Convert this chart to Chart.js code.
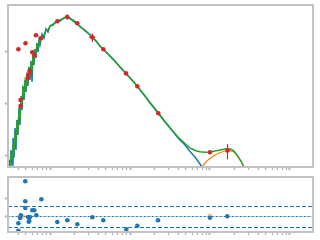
<!DOCTYPE html>
<html>
<head>
<meta charset="utf-8">
<script src="https://cdn.jsdelivr.net/npm/chart.js@4.4.1/dist/chart.umd.min.js"></script>
<style>
  html, body { margin: 0; padding: 0; background: #fff; }
  #wrap { position: relative; width: 320px; height: 240px; overflow: hidden; }
  canvas { position: absolute; left: 0; }
  #sed { top: 0; }
  #resid { top: 172px; }
</style>
</head>
<body>
<div id="wrap">
  <canvas id="sed" width="320" height="172"></canvas>
  <canvas id="resid" width="320" height="68"></canvas>
</div>
<script>
// model spectra grid (micron)
const wave = [
  0.02985, 0.03073, 0.03162, 0.03255, 0.03350, 0.03447, 0.03548, 0.03652, 0.03758, 0.03868,
  0.03981, 0.04097, 0.04217, 0.04340, 0.04467, 0.04597, 0.04732, 0.04870, 0.05012, 0.05158,
  0.05309, 0.05464, 0.05623, 0.05788, 0.05957, 0.06131, 0.06310, 0.06494, 0.06683, 0.06879,
  0.07079, 0.07286, 0.07499, 0.07943, 0.08414, 0.08913, 0.09441, 0.1,
  0.1090, 0.1189, 0.1334, 0.1496, 0.1631, 0.1778, 0.1939, 0.2175, 0.2371, 0.2738,
  0.2985, 0.3350, 0.3758, 0.4217, 0.4597, 0.5623, 0.6494, 0.7499, 0.8913, 1.059,
  1.223, 1.540, 1.778, 2.239, 2.738, 3.350, 3.981, 4.870, 5.623, 6.494,
  7.499, 8.660, 10.0, 11.55, 13.34, 15.40, 16.79, 18.31, 19.95, 22.39,
  24.40, 26.61, 29.01
];
// stellar photosphere (blue)
const stellarFlux = [
  0.410, 0.800, 0.513, 1.249, 0.641, 2.13, 0.875, 3.33, 1.249, 4.75,
  2.44, 8.11, 3.80, 13.8, 7.42, 21.6, 11.6, 28.2, 16.5, 36.9,
  21.6, 50.4, 28.2, 65.8, 25.8, 85.96, 55.1, 112.3, 75.2, 146.7,
  98.2, 167.6, 134.2, 219.0, 183.2, 273.6, 239.4, 312.7,
  326.9, 373.7, 390.7, 446.6, 467.0, 446.6, 390.7, 341.8, 312.7, 250.3,
  228.9, 191.6, 160.3, 128.3, 112.3, 82.2, 65.8, 50.4, 37.7, 28.2,
  21.6, 13.8, 10.1, 6.49, 4.35, 2.98, 2.13, 1.561, 1.169, 0.915,
  0.670, 0.469, null, null, null, null, null, null, null, null,
  null, null, null
];
// star + dust (green)
const totalFlux = [
  0.469, 0.670, 0.613, 1.0, 0.875, 1.561, 1.249, 2.33, 1.95, 3.98,
  3.33, 6.49, 5.43, 11.6, 10.1, 18.9, 15.1, 25.8, 20.7, 33.7,
  28.2, 44.1, 36.9, 57.6, 48.2, 78.6, 68.8, 102.7, 93.96, 134.2,
  122.7, 160.3, 153.4, 200.3, 209.4, 261.7, 261.7, 312.7,
  341.8, 373.7, 408.6, 446.6, 499.2, 427.1, 408.6, 357.4, 299.1, 261.7,
  228.9, 195.9, 160.3, 128.3, 112.3, 82.2, 64.4, 50.4, 37.7, 28.2,
  21.6, 13.8, 10.4, 6.64, 4.45, 3.04, 2.23, 1.669, 1.366, 1.222,
  1.158, 1.133, 1.143, 1.195, 1.249, 1.306, 1.324, 1.289, 1.195, 0.935,
  0.765, 0.586, 0.449
];
// dust component (orange)
const dustWave = [7.079, 7.718, 8.660, 9.441, 10.59, 11.55, 12.59, 14.13, 15.40, 16.79, 18.31, 19.95, 21.13, 22.39, 24.40, 25.85, 28.18];
const dustFlux = [0.392, 0.560, 0.700, 0.800, 0.915, 1.0, 1.069, 1.143, 1.195, 1.211, 1.195, 1.143, 1.045, 0.915, 0.749, 0.626, 0.490];

// photometry (red)
const photWave = [0.0402, 0.0428, 0.0428, 0.0494, 0.0523, 0.0538, 0.0554, 0.0601, 0.0640, 0.0668, 0.0772, 0.1234, 0.1645, 0.2195, 0.3381, 0.4637, 0.8913, 1.234, 2.259, 10.0, 16.55];
const photFlux = [110.8, 11.6, 8.87, 144.8, 30.5, 36.1, 42.2, 96.9, 84.1, 207.6, 180.8, 385.5, 467, 352.6, 189.1, 110.8, 38.0, 21.3, 6.41, 1.133, 1.222];
const photErr  = [0, 0, 0, 0, 0, 0, 0, 0, 0, 0, 0, 0, 55, 0, 35, 0, 0, 0, 0, 0.05, 0.4];
const photWaveErr = [0, 0, 0, 0, 0, 0, 0, 0, 0, 0, 0, 0, 0, 0, 0.03, 0, 0, 0, 0, 0, 0];

// residuals
const residWave = [0.0402, 0.0402, 0.0431, 0.0422, 0.0491, 0.0491, 0.0491, 0.0531, 0.0562, 0.0542, 0.0551, 0.0601, 0.0636, 0.0674, 0.0779, 0.1234, 0.1645, 0.2195, 0.3381, 0.4637, 0.8994, 1.234, 2.239, 10.0, 16.45];
const residVal = [-0.417, -0.84, 0.04, -0.114, 1.983, 0.84, 0.457, -0.057, -0.057, -0.326, -0.286, 0.326, 0.326, 0.04, 0.954, -0.343, -0.246, -0.474, -0.074, -0.246, -0.76, -0.554, -0.246, -0.097, -0.017];
const residWaveAlt = [0.0453, 10.0];
const residValAlt = [-0.017, 0];
const residBands = [0.57, -0.65];
const residCenter = 0;

const xMin = 0.02985, xMax = 193.9;
const frameColor = '#c2c2c2';
const tickGray = '#b4b4b4';

function pts(xs, ys) { return xs.map((x, i) => ({ x: x, y: ys[i] })); }

function niceTick(tick) {
  if (!tick) return false;
  const v = tick.value;
  const m = v / Math.pow(10, Math.floor(Math.log10(v) + 1e-9));
  return Math.abs(m - Math.round(m)) < 1e-6;
}

function xAxis() {
  return {
    type: 'logarithmic', min: xMin, max: xMax,
    ticks: { display: false },
    border: { display: false },
    grid: {
      drawOnChartArea: false, tickLength: 3,
      tickColor: ctx => niceTick(ctx.tick) ? tickGray : 'rgba(0,0,0,0)',
      tickWidth: ctx => (ctx.tick && ctx.tick.major) ? 2 : 1.3
    },
    afterFit: s => { s.height = s.chart.height - (s.chart.canvas.id === 'sed' ? 167 : 60); }
  };
}

// frame around the plot area
const framePlugin = {
  id: 'frame',
  afterDatasetsDraw(chart) {
    const a = chart.chartArea, c = chart.ctx;
    c.save();
    c.strokeStyle = frameColor;
    c.lineWidth = 2;
    c.strokeRect(a.left, a.top, a.right - a.left, a.bottom - a.top);
    c.restore();
  }
};

// error bars of the photometry
const errPlugin = {
  id: 'errbars',
  afterDatasetsDraw(chart) {
    const xs = chart.scales.x, ys = chart.scales.y, c = chart.ctx;
    c.save();
    c.strokeStyle = '#d62728';
    c.lineWidth = 1.2;
    photWave.forEach((w, i) => {
      const px = xs.getPixelForValue(w), py = ys.getPixelForValue(photFlux[i]);
      if (photErr[i] > 0) {
        c.beginPath();
        c.moveTo(px, ys.getPixelForValue(photFlux[i] - photErr[i]));
        c.lineTo(px, ys.getPixelForValue(photFlux[i] + photErr[i]));
        c.stroke();
      }
      if (photWaveErr[i] > 0) {
        c.beginPath();
        c.moveTo(xs.getPixelForValue(w - photWaveErr[i]), py);
        c.lineTo(xs.getPixelForValue(w + photWaveErr[i]), py);
        c.stroke();
      }
    });
    c.restore();
  }
};

// reference lines of the residual panel
const bandPlugin = {
  id: 'bands',
  beforeDatasetsDraw(chart) {
    const a = chart.chartArea, ys = chart.scales.y, c = chart.ctx;
    c.save();
    c.lineWidth = 1;
    residBands.forEach(v => {
      const y = Math.round(ys.getPixelForValue(v)) + 0.5;
      c.strokeStyle = '#1f77b4';
      c.setLineDash([4, 2]);
      c.beginPath(); c.moveTo(a.left, y); c.lineTo(a.right, y); c.stroke();
    });
    const y0 = Math.round(ys.getPixelForValue(residCenter)) + 0.5;
    c.setLineDash([]);
    c.strokeStyle = 'rgba(31,119,180,0.35)';
    c.beginPath(); c.moveTo(a.left, y0); c.lineTo(a.right, y0); c.stroke();
    c.setLineDash([1.5, 2.5]);
    c.strokeStyle = '#1f77b4';
    c.beginPath(); c.moveTo(a.left, y0); c.lineTo(a.right, y0); c.stroke();
    c.restore();
  }
};

Chart.defaults.animation = false;

new Chart(document.getElementById('sed'), {
  type: 'scatter',
  data: {
    datasets: [
      { data: pts(photWave, photFlux), backgroundColor: '#d62728', borderColor: '#d62728',
        pointRadius: 2.3, pointBorderWidth: 0, order: 0 },
      { data: pts(wave, totalFlux), showLine: true, borderColor: '#2ca02c', borderWidth: 1.5,
        pointRadius: 0, order: 1 },
      { data: pts(dustWave, dustFlux), showLine: true, borderColor: '#ff7f0e', borderWidth: 1.2,
        pointRadius: 0, order: 2 },
      { data: pts(wave, stellarFlux), showLine: true, borderColor: '#1f77b4', borderWidth: 1.5,
        pointRadius: 0, order: 3 }
    ]
  },
  options: {
    responsive: false, devicePixelRatio: 1, animation: false,
    layout: { padding: { top: 5, right: 7, left: 0, bottom: 0 } },
    plugins: { legend: { display: false }, tooltip: { enabled: false } },
    scales: {
      x: xAxis(),
      y: {
        type: 'logarithmic', min: 0.586, max: 796.8,
        ticks: { display: false },
        border: { display: false },
        grid: {
          drawOnChartArea: false, tickLength: 3,
          tickColor: ctx => (ctx.tick && ctx.tick.major && niceTick(ctx.tick)) ? tickGray : 'rgba(0,0,0,0)',
          tickWidth: 2
        },
        afterFit: s => { s.width = 8; }
      }
    }
  },
  plugins: [framePlugin, errPlugin]
});

new Chart(document.getElementById('resid'), {
  type: 'scatter',
  data: {
    datasets: [
      { data: pts(residWave, residVal), backgroundColor: '#1f77b4', pointRadius: 2.3,
        pointBorderWidth: 0, order: 0 },
      { data: pts(residWaveAlt, residValAlt), backgroundColor: 'rgba(255,127,14,0.45)',
        pointRadius: 2.6, pointBorderWidth: 0, order: 1 }
    ]
  },
  options: {
    responsive: false, devicePixelRatio: 1, animation: false,
    layout: { padding: { top: 5, right: 7, left: 0, bottom: 0 } },
    plugins: { legend: { display: false }, tooltip: { enabled: false } },
    scales: {
      x: xAxis(),
      y: {
        type: 'linear', min: -0.914, max: 2.229,
        ticks: { display: false, stepSize: 1 },
        border: { display: false },
        grid: {
          drawOnChartArea: false, tickLength: 3,
          tickColor: ctx => (ctx.tick && Math.abs(ctx.tick.value - Math.round(ctx.tick.value)) < 1e-6) ? tickGray : 'rgba(0,0,0,0)',
          tickWidth: 2
        },
        afterFit: s => { s.width = 8; }
      }
    }
  },
  plugins: [framePlugin, bandPlugin]
});
</script>
</body>
</html>
